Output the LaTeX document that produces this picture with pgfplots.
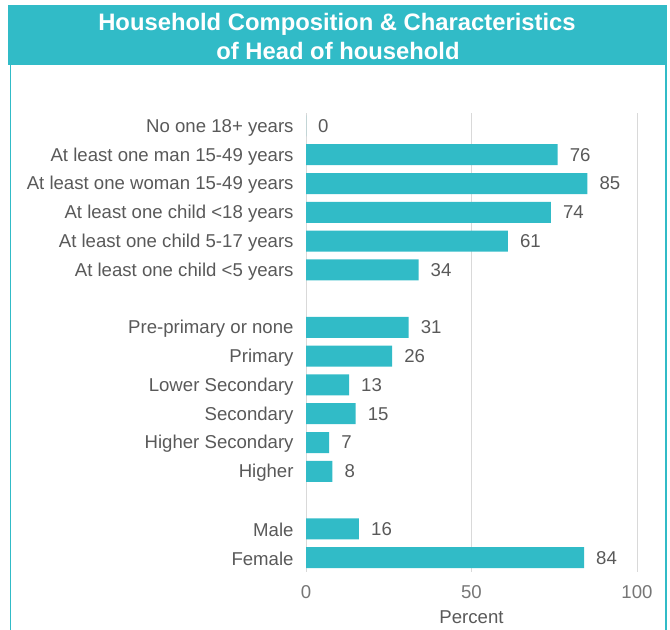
\documentclass[border=0pt]{standalone}
\usepackage{fontspec}
\setmainfont{Liberation Sans}
\usepackage{pgfplots}
\pgfplotsset{compat=1.18}

\definecolor{teal}{RGB}{49,187,199}
\definecolor{lblgray}{RGB}{89,89,89}
\definecolor{tickgray}{RGB}{118,118,118}
\definecolor{gridgray}{RGB}{217,217,217}
\newcommand\lbl{\fontsize{18.6bp}{22bp}\selectfont}

\begin{document}
\begin{tikzpicture}
  \path[use as bounding box] (0,0) rectangle (670bp,-630bp);

  %% frame and title banner
  \fill[teal] (7.5bp,-5bp) rectangle (667bp,-65bp);
  \draw[teal, line width=1.6bp] (10.5bp,-5bp) -- (10.5bp,-631bp);
  \draw[teal, line width=1.6bp] (665.8bp,-5bp) -- (665.8bp,-631bp);
  \node[anchor=base, text=white, font=\fontsize{23.8bp}{28bp}\selectfont\bfseries]
    at (337bp,-30bp) {Household Composition \& Characteristics};
  \node[anchor=base, text=white, font=\fontsize{23.8bp}{28bp}\selectfont\bfseries]
    at (338bp,-59bp) {of Head of household};

\begin{axis}[
  at={(306bp,-572bp)}, anchor=south west,
  scale only axis,
  width=331bp, height=459bp,
  xbar, bar width=21bp,
  xmin=0, xmax=100,
  ymin=-0.45, ymax=15.5,
  y dir=reverse,
  xtick={0,50,100},
  ytick={0,1,2,3,4,5,7,8,9,10,11,12,14,15},
  yticklabels={
    No one 18+ years,
    At least one man 15-49 years,
    At least one woman 15-49 years,
    At least one child <18 years,
    At least one child 5-17 years,
    At least one child <5 years,
    Pre-primary or none,
    Primary,
    Lower Secondary,
    Secondary,
    Higher Secondary,
    Higher,
    Male,
    Female},
  /pgf/number format/assume math mode=true,
  axis line style={draw=none},
  tick style={draw=none},
  xmajorgrids,
  grid style={color=gridgray, line width=0.9bp},
  yticklabel style={font=\lbl, text=lblgray, inner sep=0pt, anchor=east, xshift=-8bp, yshift=-1.5bp},
  xticklabel style={font=\lbl, text=tickgray, inner sep=0pt, anchor=north, yshift=-13bp},
  xlabel={Percent},
  xlabel style={font=\lbl, text=lblgray, at={(axis description cs:0.5,0)}, anchor=base, yshift=-51bp},
  nodes near coords,
  nodes near coords style={font=\lbl, text=lblgray, anchor=west, inner sep=0pt, xshift=12bp},
  clip=false,
]
  \addplot[fill=teal, draw=none] coordinates {
    (0,0) (76,1) (85,2) (74,3) (61,4) (34,5)
    (31,7) (26,8) (13,9) (15,10) (7,11) (8,12)
    (16,14) (84,15)
  };
\end{axis}
\end{tikzpicture}
\end{document}
